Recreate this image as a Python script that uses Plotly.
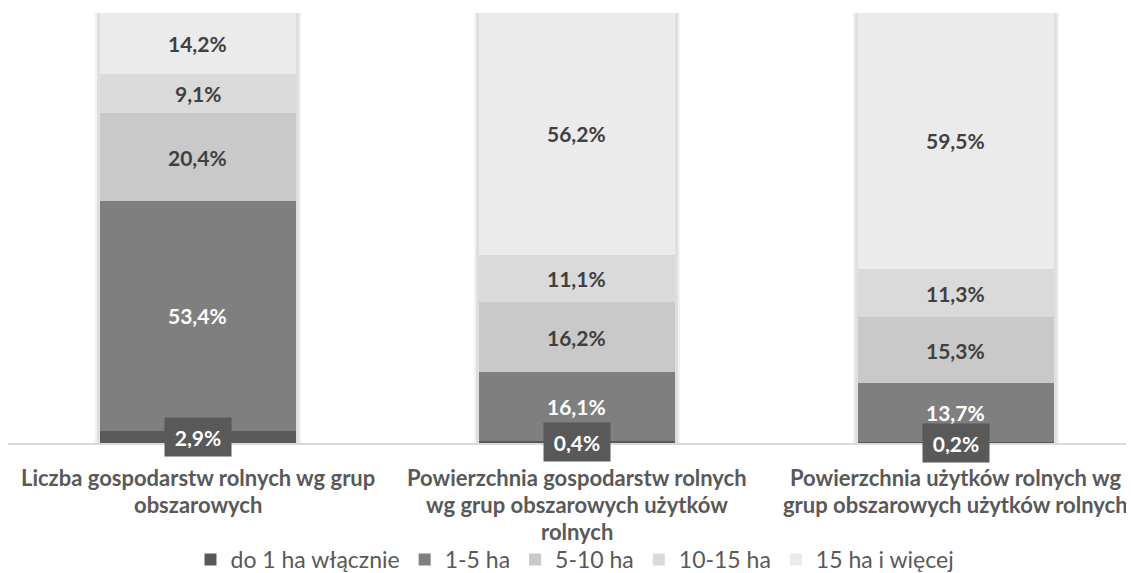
import plotly.graph_objects as go

categories = [
    "Liczba gospodarstw rolnych wg grup<br>obszarowych",
    "Powierzchnia gospodarstw rolnych<br>wg grup obszarowych użytków<br>rolnych",
    "Powierzchnia użytków rolnych wg<br>grup obszarowych użytków rolnych",
]
series_names = ["do 1 ha włącznie", "1-5 ha", "5-10 ha", "10-15 ha", "15 ha i więcej"]
do1 = [2.9, 0.4, 0.2]
ha1_5 = [53.4, 16.1, 13.7]
ha5_10 = [20.4, 16.2, 15.3]
ha10_15 = [9.1, 11.1, 11.3]
ha15plus = [14.2, 56.2, 59.5]
series_values = [do1, ha1_5, ha5_10, ha10_15, ha15plus]

colors = ["#595959", "#7f7f7f", "#c9c9c9", "#dadada", "#ebebeb"]
label_colors = ["#ffffff", "#ffffff", "#404040", "#404040", "#404040"]
label_bg = ["#595959", None, None, None, None]

FONT = "Lato"
BAR_W = 0.517
xs = list(range(len(categories)))

fig = go.Figure()

# soft shadow behind stacked bars
totals = [sum(s[i] for s in series_values) for i in xs]
for extra, alpha in [(0.028, 0.05), (0.016, 0.08)]:
    fig.add_trace(go.Bar(
        x=xs, y=totals, base=[0] * len(xs), width=BAR_W + extra,
        marker=dict(color=f"rgba(0,0,0,{alpha})", line=dict(width=0)),
        showlegend=False, hoverinfo="skip",
    ))

cum = [0.0] * len(xs)
bases = []
for name, vals, col in zip(series_names, series_values, colors):
    bases.append(list(cum))
    fig.add_trace(go.Bar(
        x=xs, y=vals, base=list(cum), name=name, width=BAR_W,
        marker=dict(color=col, line=dict(width=0)),
    ))
    cum = [c + v for c, v in zip(cum, vals)]

annotations = []
for si, (vals, base) in enumerate(zip(series_values, bases)):
    for i in xs:
        txt = f"{vals[i]:.1f}%".replace(".", ",")
        a = dict(x=i, y=base[i] + vals[i] / 2, xref="x", yref="y",
                 text=f"<b>{txt}</b>", showarrow=False,
                 font=dict(family=FONT, size=21, color=label_colors[si]),
                 xanchor="center", yanchor="middle")
        if label_bg[si]:
            a.update(bgcolor=label_bg[si], width=50, height=22, borderpad=8)
        annotations.append(a)

# category labels (line by line)
line_shifts = [-34, -61, -88]
for i, cat in enumerate(categories):
    for li, line in enumerate(cat.split("<br>")):
        annotations.append(dict(
            x=i, y=0, xref="x", yref="paper", yshift=line_shifts[li],
            text=f"<b>{line}</b>", showarrow=False,
            font=dict(family=FONT, size=22, color="#595959"),
            xanchor="center", yanchor="middle"))

fig.update_layout(
    width=1134, height=573,
    margin=dict(l=0, r=0, t=5, b=136),
    paper_bgcolor="white", plot_bgcolor="white",
    barmode="overlay", bargap=0,
    xaxis=dict(range=[-0.501, 2.491], showticklabels=False, showgrid=False,
               zeroline=False, showline=True, linecolor="#d9d9d9", linewidth=2,
               ticks="", fixedrange=True),
    yaxis=dict(range=[0, 100], visible=False, fixedrange=True),
    legend=dict(orientation="h", x=0.5, xanchor="center", y=-0.271, yanchor="middle",
                font=dict(family=FONT, size=23, color="#595959"),
                traceorder="normal", itemclick=False),
    annotations=annotations,
    showlegend=True,
)

fig.write_html("out.html")
